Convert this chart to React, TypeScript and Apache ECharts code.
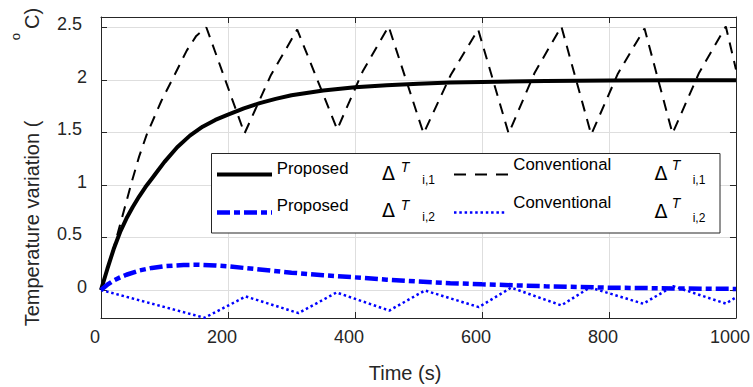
import React, { useEffect, useRef } from 'react';
import * as echarts from 'echarts';

const FONT = '"Liberation Sans", Arial, Helvetica, sans-serif';

// Axis ranges / ticks
const xMin = 0;
const xMax = 1000;
const xStep = 200;
const yMin = -0.267;
const yMax = 2.6;
const yStep = 0.5;

// Proposed ΔT i,1 (solid black)
const propI1Time = [0, 10, 20, 30, 40, 50, 60, 70, 80, 90, 100, 120, 140, 160, 180, 200, 225, 250, 275, 300, 350, 400, 450, 500, 550, 600, 700, 800, 900, 1000];
const propI1Val = [0, 0.2, 0.39, 0.55, 0.68, 0.79, 0.89, 0.98, 1.06, 1.14, 1.22, 1.36, 1.47, 1.555, 1.62, 1.67, 1.73, 1.78, 1.82, 1.855, 1.9, 1.93, 1.95, 1.965, 1.975, 1.982, 1.99, 1.994, 1.997, 1.998];

// Conventional ΔT i,1 (dashed black)
const convI1Time = [0, 10, 20, 30, 48, 60, 72, 95, 116, 135, 150, 166, 226, 267, 309, 372, 412, 453, 508, 551, 594, 642, 683, 725, 772, 814, 856, 900, 942, 984, 1000];
const convI1Val = [0, 0.2, 0.4, 0.62, 1.02, 1.27, 1.48, 1.8, 2.05, 2.28, 2.42, 2.5, 1.49, 2.04, 2.48, 1.53, 2.08, 2.51, 1.49, 2.05, 2.48, 1.49, 2.07, 2.51, 1.48, 2.06, 2.49, 1.49, 2.07, 2.51, 2.1];

// Proposed ΔT i,2 (blue dash-dot)
const propI2Time = [0, 10, 20, 30, 40, 60, 80, 100, 130, 155, 180, 200, 250, 300, 350, 400, 450, 500, 550, 600, 700, 800, 900, 1000];
const propI2Val = [0, 0.05, 0.09, 0.12, 0.145, 0.185, 0.21, 0.227, 0.238, 0.24, 0.234, 0.225, 0.195, 0.165, 0.14, 0.12, 0.098, 0.08, 0.065, 0.054, 0.035, 0.022, 0.015, 0.01];

// Conventional ΔT i,2 (blue dotted)
const convI2Time = [0, 80, 163, 228, 311, 371, 454, 510, 595, 646, 725, 770, 854, 901, 984, 1000];
const convI2Val = [0, -0.13, -0.265, -0.062, -0.22, -0.024, -0.196, -0.005, -0.163, 0.022, -0.147, 0.024, -0.131, 0.036, -0.13, -0.07];

const legendMethods = ['Proposed', 'Conventional'];
const legendSubs = ['i,1', 'i,2'];
const xTitle = 'Time (s)';
const yTitleMain = 'Temperature variation (';
const yTitleSup = 'o';
const yTitleEnd = 'C)';

const zip = (t: number[], v: number[]) => t.map((x, i) => [x, v[i]]);

const AX = '#262626';
const GRID = '#dedede';

function txt(text: string, x: number, y: number, size: number, o: any = {}) {
  return {
    type: 'text',
    x,
    y,
    z: 101,
    silent: true,
    rotation: o.rotation || 0,
    style: {
      text,
      x: 0,
      y: 0,
      fill: o.fill || '#000',
      fontSize: size,
      fontFamily: o.family || FONT,
      fontStyle: o.italic ? 'italic' : 'normal',
      align: o.align || 'left',
      verticalAlign: 'middle',
    },
  };
}

function delta(x: number, y: number) {
  return txt('Δ', x, y, 19, { family: '"DejaVu Sans", sans-serif' });
}

function line(x1: number, x2: number, y: number, stroke: string, lineWidth: number, lineDash?: number[]) {
  return {
    type: 'line',
    z: 101,
    silent: true,
    shape: { x1, y1: y, x2, y2: y },
    style: { stroke, lineWidth, lineDash: lineDash || null, lineCap: 'butt' },
  };
}

function buildOption() {
  const yFormatter = (v: number) => {
    if (Math.abs(v * 2 - Math.round(v * 2)) > 1e-6) return '';
    const r = Math.round(v * 10) / 10;
    const s = String(r === 0 ? 0 : r);
    return Number.isInteger(r) ? `{i|${s}}` : `{d|${s}}`;
  };

  const graphic: any[] = [
    // y-axis title
    txt(yTitleMain, 31.7, 223.5, 20, { rotation: Math.PI / 2, align: 'center', fill: AX }),
    txt(yTitleSup, 15, 36.7, 13, { rotation: Math.PI / 2, align: 'center', fill: AX }),
    txt(yTitleEnd, 31.7, 18.5, 20, { rotation: Math.PI / 2, align: 'center', fill: AX }),
    // x-axis title
    txt(xTitle, 405, 373, 20, { align: 'center', fill: AX }),
    // legend box
    {
      type: 'rect',
      z: 100,
      silent: true,
      shape: { x: 211.5, y: 153.5, width: 508.5, height: 79.5 },
      style: { fill: '#ffffff', stroke: AX, lineWidth: 1 },
    },
    line(217, 272, 174.5, '#000000', 4),
    line(454, 509.5, 174.5, '#000000', 2, [12, 9]),
    line(217, 272, 212.5, '#0000ff', 4.5, [13, 4, 6, 4]),
    line(454, 507, 212.5, '#0000ff', 2.5, [2.5, 2.8]),
    // row 1
    txt(legendMethods[0], 276.7, 168.2, 16.8),
    delta(382, 172.5),
    txt('T', 400.7, 166.7, 14, { italic: true }),
    txt(legendSubs[0], 422.3, 179.5, 12),
    txt(legendMethods[1], 513.3, 164.8, 16.8),
    delta(654.5, 173),
    txt('T', 671.7, 164.7, 14, { italic: true }),
    txt(legendSubs[0], 692.7, 180, 12),
    // row 2
    txt(legendMethods[0], 276.7, 205.8, 16.8),
    delta(382, 210.2),
    txt('T', 400.7, 204.7, 14, { italic: true }),
    txt(legendSubs[1], 422.3, 217, 12),
    txt(legendMethods[1], 513.3, 202.4, 16.8),
    delta(654.5, 210.5),
    txt('T', 671.7, 202.8, 14, { italic: true }),
    txt(legendSubs[1], 692.7, 217.5, 12),
  ];

  const axisLineStyle = { show: true, onZero: false, lineStyle: { color: AX, width: 1 } };
  const tickStyle = { show: true, inside: true, length: 6, lineStyle: { color: AX, width: 1 } };

  return {
    animation: false,
    backgroundColor: '#ffffff',
    grid: { left: 101, top: 17, right: 15, bottom: 69, containLabel: false },
    xAxis: [
      {
        type: 'value',
        min: xMin,
        max: xMax,
        interval: xStep,
        position: 'bottom',
        axisLine: axisLineStyle,
        axisTick: tickStyle,
        axisLabel: {
          color: AX,
          fontSize: 18,
          fontFamily: FONT,
          margin: 10,
          padding: [0, 12, 0, 0],
          formatter: (v: number) => String(v),
        },
        splitLine: { show: true, lineStyle: { color: GRID, width: 1 } },
      },
      {
        type: 'value',
        min: xMin,
        max: xMax,
        interval: xStep,
        position: 'top',
        axisLine: axisLineStyle,
        axisTick: tickStyle,
        axisLabel: { show: false },
        splitLine: { show: false },
      },
    ],
    yAxis: [
      {
        type: 'value',
        min: yMin,
        max: yMax,
        minInterval: yStep,
        maxInterval: yStep,
        position: 'left',
        axisLine: axisLineStyle,
        axisTick: tickStyle,
        axisLabel: {
          color: AX,
          fontSize: 18,
          fontFamily: FONT,
          margin: 14,
          padding: [0, 0, 6, 0],
          formatter: yFormatter,
          rich: {
            i: { color: AX, fontSize: 18, fontFamily: FONT },
            d: { color: AX, fontSize: 18, fontFamily: FONT, padding: [0, 5, 0, 0] },
          },
        },
        splitLine: { show: true, lineStyle: { color: GRID, width: 1 } },
      },
      {
        type: 'value',
        min: yMin,
        max: yMax,
        minInterval: yStep,
        maxInterval: yStep,
        position: 'right',
        axisLine: axisLineStyle,
        axisTick: tickStyle,
        axisLabel: { show: false },
        splitLine: { show: false },
      },
    ],
    series: [
      {
        name: 'Proposed ΔT i,1',
        type: 'line',
        data: zip(propI1Time, propI1Val),
        symbol: 'none',
        silent: true,
        lineStyle: { color: '#000000', width: 4, type: 'solid', cap: 'butt' },
      },
      {
        name: 'Conventional ΔT i,1',
        type: 'line',
        data: zip(convI1Time, convI1Val),
        symbol: 'none',
        silent: true,
        lineStyle: { color: '#000000', width: 2, type: [11, 8], cap: 'butt' },
      },
      {
        name: 'Proposed ΔT i,2',
        type: 'line',
        data: zip(propI2Time, propI2Val),
        symbol: 'none',
        silent: true,
        lineStyle: { color: '#0000ff', width: 4.5, type: [13, 4, 6, 4], cap: 'butt' },
      },
      {
        name: 'Conventional ΔT i,2',
        type: 'line',
        data: zip(convI2Time, convI2Val),
        symbol: 'none',
        silent: true,
        lineStyle: { color: '#0000ff', width: 2.5, type: [2.5, 2.8], cap: 'butt' },
      },
    ],
    graphic,
  };
}

export default function App() {
  const ref = useRef<HTMLDivElement>(null);
  useEffect(() => {
    if (!ref.current) return;
    const chart = echarts.init(ref.current, null, { renderer: 'svg' });
    chart.setOption(buildOption() as any);
    return () => chart.dispose();
  }, []);
  return (
    <div
      ref={ref}
      style={{ position: 'absolute', left: 0, top: 0, width: 753, height: 387, background: '#ffffff' }}
    />
  );
}
